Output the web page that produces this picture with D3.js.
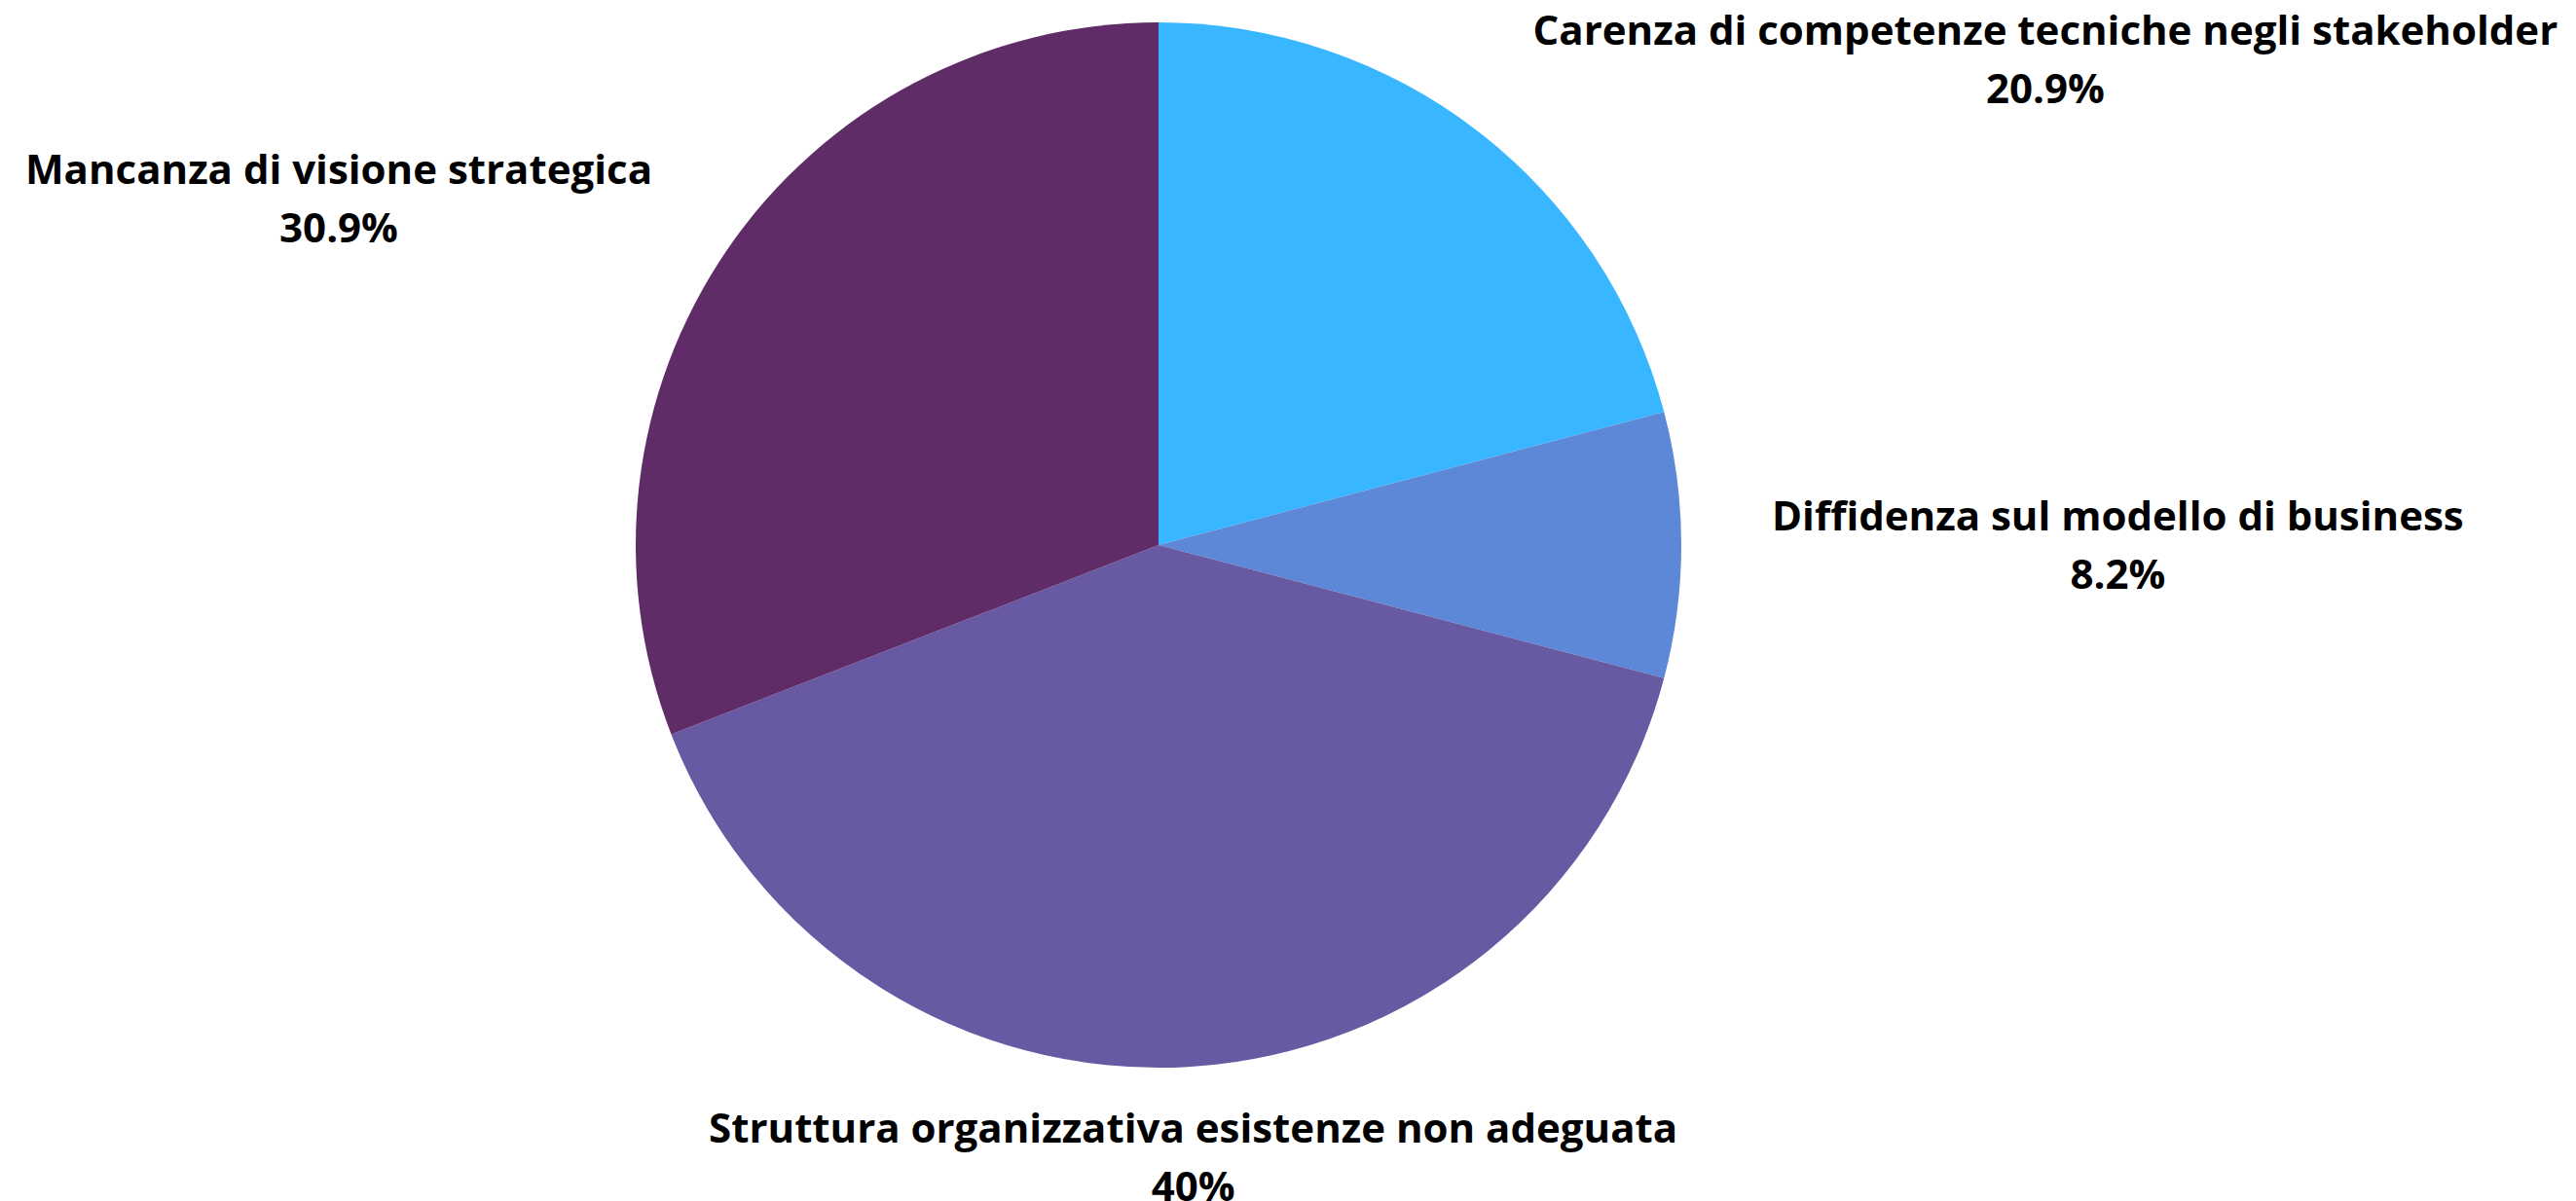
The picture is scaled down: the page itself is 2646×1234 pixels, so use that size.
<!DOCTYPE html>
<html>
<head>
<meta charset="utf-8">
<script src="https://cdn.jsdelivr.net/npm/d3@7"></script>
<style>
  html, body { margin: 0; padding: 0; background: #fff; }
  svg { display: block; }
</style>
</head>
<body>
<svg id="chart"></svg>
<script>
// dati del grafico
const categorie = [
  "Carenza di competenze tecniche negli stakeholder",
  "Diffidenza sul modello di business",
  "Struttura organizzativa esistenze non adeguata",
  "Mancanza di visione strategica"
];
const valori = [20.9, 8.2, 40, 30.9];
const colori = ["#38b6ff", "#5c88d7", "#675aa3", "#5f2c68"];

const width = 2646, height = 1234;
const cx = 1190, cy = 560, radius = 537;
const fontSize = 42, lineGap = 60;

const data = categorie.map((c, i) => ({ label: c, value: valori[i], color: colori[i] }));

const svg = d3.select("#chart")
    .attr("width", width)
    .attr("height", height)
    .attr("viewBox", [0, 0, width, height]);

const pie = d3.pie().sort(null).value(d => d.value);
const arcs = pie(data);
const arc = d3.arc().innerRadius(0).outerRadius(radius);

const g = svg.append("g").attr("transform", `translate(${cx},${cy})`);

g.selectAll("path")
  .data(arcs)
  .join("path")
    .attr("d", arc)
    .attr("fill", d => d.data.color);

// etichette: punto di ancoraggio lungo l'angolo medio della fetta
const labelRadius = 630;
const labelArc = d3.arc().innerRadius(labelRadius).outerRadius(labelRadius);

const labels = g.selectAll("text.label")
  .data(arcs)
  .join("text")
    .attr("class", "label")
    .attr("font-family", "'Open Sans', sans-serif")
    .attr("font-weight", 700)
    .attr("font-size", fontSize)
    .attr("fill", "#000")
    .attr("text-anchor", "middle");

labels.append("tspan")
    .attr("x", 0)
    .attr("y", 0)
    .text(d => d.data.label);

labels.append("tspan")
    .attr("x", 0)
    .attr("y", lineGap)
    .text(d => d.data.value + "%");

labels.each(function(d) {
  const [px, py] = labelArc.centroid(d);
  const s = px / labelRadius;
  const w = this.getBBox().width;
  const capTop = -0.72 * fontSize;
  const h = lineGap - capTop;

  let x;
  if (s > 0.5) x = px + w / 2;
  else if (s < -0.5) x = px - w / 2;
  else x = px;

  const y = py - h / 2 - capTop;
  d3.select(this).attr("transform", `translate(${x},${y})`);
});
</script>
</body>
</html>
